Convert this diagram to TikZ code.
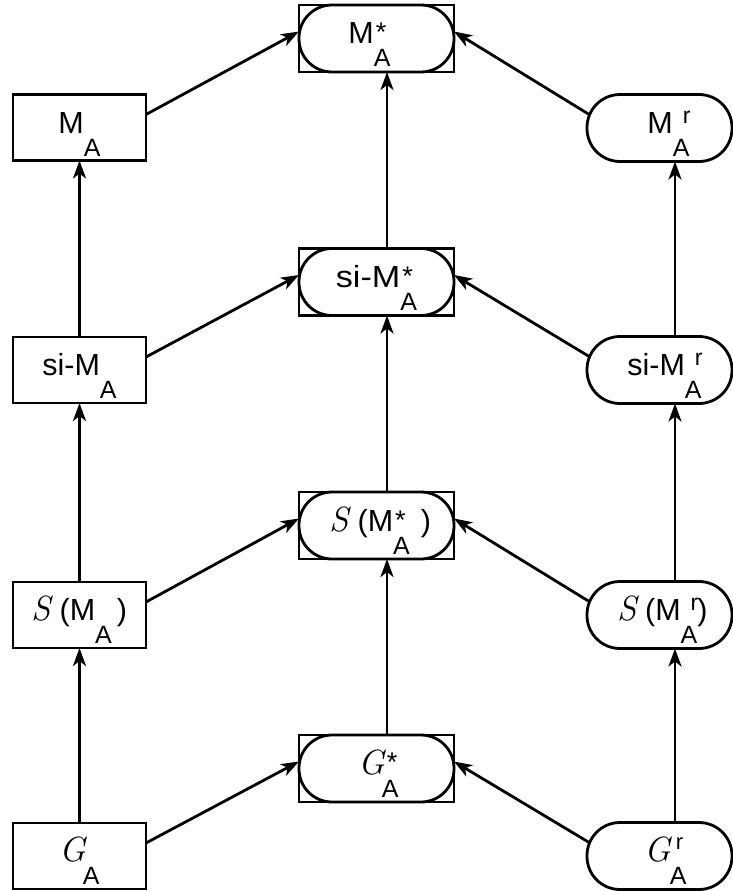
\documentclass[tikz,border=0pt]{standalone}
\usepackage{fontspec}
\setsansfont{Liberation Sans}
\usetikzlibrary{arrows.meta,calc}
\newcommand\subA{\raisebox{-23pt}{\fontsize{25}{25}\selectfont A}}
\newcommand\stk[1]{\hbox{\rlap{#1}\subA}}
\newcommand\st{\hspace*{2pt}\raisebox{2pt}{\fontsize{27}{27}\selectfont *}}
\newcommand\stg{\hspace*{5pt}\raisebox{3pt}{\fontsize{27}{27}\selectfont *}}
\newcommand\rr{\hspace*{10pt}\raisebox{10pt}{\fontsize{23}{23}\selectfont r}}
\newcommand\rg{\hspace*{6pt}\raisebox{12pt}{\fontsize{22}{22}\selectfont r}}
\newcommand\Sit{{\rmfamily\itshape\fontsize{35}{35}\selectfont S}}
\newcommand\Git{{\rmfamily\itshape\fontsize{35}{35}\selectfont G}}
\begin{document}
\begin{tikzpicture}[x=1pt,y=-1pt,
  every node/.style={font=\fontsize{30.5}{33}\sffamily, inner sep=0pt, outer sep=0pt,
    text height=21pt, text depth=10pt},
  lbox/.style={draw, line width=2.8pt, minimum width=133pt, minimum height=66pt},
  rbox/.style={draw, line width=2.8pt, rounded corners=33pt, minimum width=145pt, minimum height=67pt},
  cbox/.style={draw, line width=2.8pt, rounded corners=33pt, minimum width=155pt, minimum height=67pt},
  arr/.style={line width=2.8pt, -{Stealth[length=18pt,width=13pt,inset=5pt]}}]
\useasboundingbox (0,0) rectangle (733,891);
% left column
\node[lbox] (L1) at (79.5,127.5) {M\stk{}};
\node[lbox] (L2) at (79.5,370) {si-M\stk{}};
\node[lbox] (L3) at (79.5,615) {\Sit\ (M\stk{}\hspace{5pt})};
\node[lbox] (L4) at (79.5,856) {\Git\kern-3pt\stk{}};
% center column
\node[cbox] (C1) at (376.5,38.5) {M\stk{\st}\hspace*{14pt}};
\node[cbox] (C2) at (376.5,282) {\scalebox{1.12}[1]{si-M}\stk{\st}};
\node[cbox] (C3) at (376.5,525.5) {\hspace*{8pt}\Sit\ (M\stk{\st}\hspace{11pt})};
\node[cbox] (C4) at (376.5,768.5) {\hspace*{4pt}\Git\kern-3pt\stk{\stg}};
\foreach \n in {C1,C2,C3,C4}{\draw[line width=2.8pt] (\n.south west) rectangle (\n.north east);}
% right column
\node[rbox] (R1) at (659.5,128) {\hspace*{18pt}M\stk{\rr}};
\node[rbox] (R2) at (659.5,370) {\hspace*{10pt}si-M\stk{\rr}};
\node[rbox] (R3) at (659.5,615) {\hspace*{6pt}\Sit\ (M\stk{\rr})};
\node[rbox] (R4) at (659.5,856) {\hspace*{12pt}\Git\kern-1pt\stk{\rg}};
% vertical arrows
\draw[arr] (L4.north) -- (L3.south);
\draw[arr] (L3.north) -- (L2.south);
\draw[arr] (L2.north) -- (L1.south);
\draw[arr] ($(C4.north)+(10.5,0)$) -- ($(C3.south)+(10.5,0)$);
\draw[arr] ($(C3.north)+(10.5,0)$) -- ($(C2.south)+(10.5,0)$);
\draw[arr] ($(C2.north)+(10.5,0)$) -- ($(C1.south)+(10.5,0)$);
\draw[arr] ($(R4.north)+(15.5,0)$) -- ($(R3.south)+(15.5,0)$);
\draw[arr] ($(R3.north)+(15.5,0)$) -- ($(R2.south)+(15.5,0)$);
\draw[arr] ($(R2.north)+(15.5,0)$) -- ($(R1.south)+(15.5,0)$);
% diagonal arrows
\foreach \i in {1,2,3,4}{
  \draw[arr] ($(L\i.east)+(0,-13)$) -- ($(C\i.west)+(0,-7)$);
  \draw[arr] ($(R\i.west)+(3,-13)$) -- ($(C\i.east)+(0,-7)$);
}
\end{tikzpicture}
\end{document}
